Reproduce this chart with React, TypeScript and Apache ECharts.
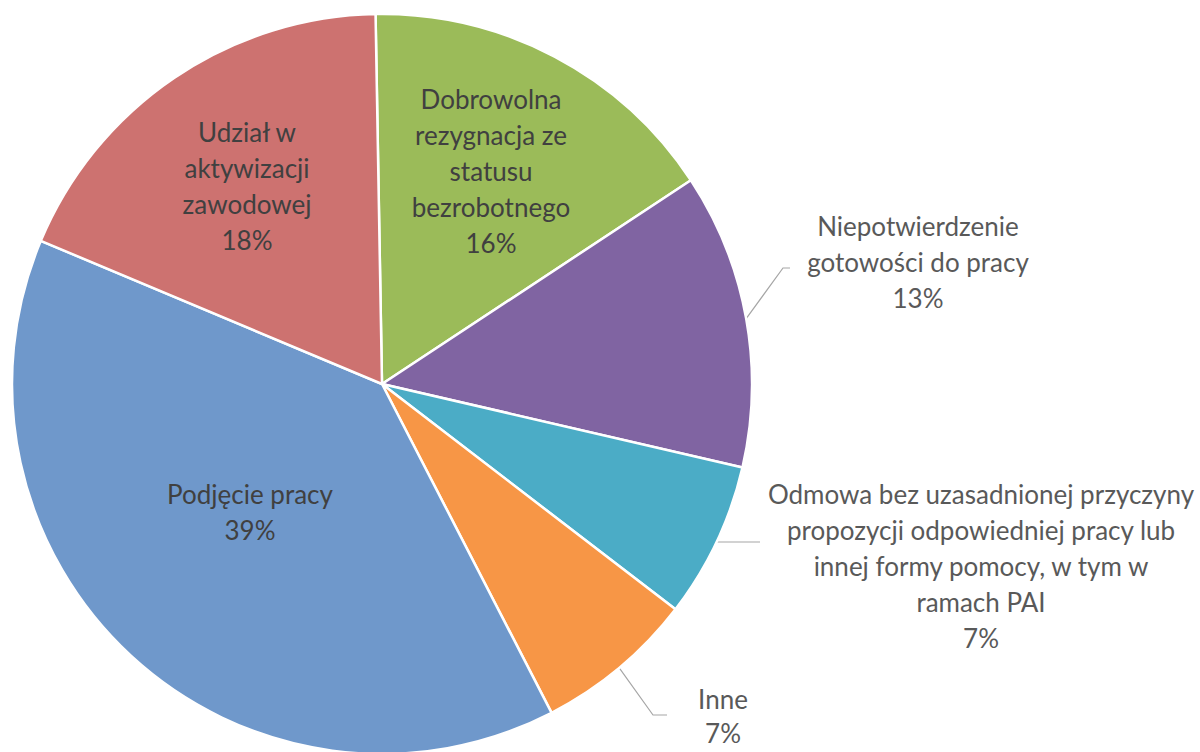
import React, { useEffect, useRef } from "react";
import * as echarts from "echarts";

// Slices in clockwise order starting at 12 o'clock
const categories = [
  "Dobrowolna rezygnacja ze statusu bezrobotnego",
  "Niepotwierdzenie gotowości do pracy",
  "Odmowa bez uzasadnionej przyczyny propozycji odpowiedniej pracy lub innej formy pomocy, w tym w ramach PAI",
  "Inne",
  "Podjęcie pracy",
  "Udział w aktywizacji zawodowej",
];
const shares = [16.0, 12.9, 6.8, 7.0, 38.9, 18.4];
const labelLines = [
  ["Dobrowolna", "rezygnacja ze", "statusu", "bezrobotnego"],
  ["Niepotwierdzenie", "gotowości do pracy"],
  ["Odmowa bez uzasadnionej przyczyny", "propozycji odpowiedniej pracy lub", "innej formy pomocy, w tym w", "ramach PAI"],
  ["Inne"],
  ["Podjęcie pracy"],
  ["Udział w", "aktywizacji", "zawodowej"],
];
const colors = ["#9BBB59", "#8064A2", "#4BACC6", "#F79646", "#6F98CB", "#CD7270"];
const insideLabel = [true, false, false, false, true, true];

// label layout (centre of label block, leader-line elbows)
const labelCentres: [number, number][] = [
  [491, 171],
  [918, 262],
  [981, 566],
  [723, 716],
  [250, 512],
  [247, 186],
];
const leaderExtra: [number, number][][] = [
  [],
  [[783, 268], [790, 268]],
  [[760, -1]],
  [[653, 715], [667, 715]],
  [],
  [],
];

export default function App() {
  const ref = useRef<HTMLDivElement>(null);
  useEffect(() => {
    if (!ref.current) return;
    const chart = echarts.init(ref.current, null, { renderer: "svg" });
    const data = categories.map((name, i) => ({
      name,
      value: shares[i],
      itemStyle: { color: colors[i] },
      label: {
        color: insideLabel[i] ? "#404040" : "#595959",
        lineHeight: i === 3 ? 34 : 36,
      },
      labelLine: { show: !insideLabel[i] },
    }));
    chart.setOption({
      animation: false,
      backgroundColor: "#ffffff",
      series: [
        {
          type: "pie",
          center: [382, 384],
          radius: [0, 370],
          startAngle: 91,
          clockwise: true,
          avoidLabelOverlap: false,
          data,
          itemStyle: { borderColor: "#ffffff", borderWidth: 2.5 },
          label: {
            show: true,
            position: "outside",
            fontFamily: "Lato",
            fontSize: 26,
            lineHeight: 36,
            align: "center",
            formatter: (p: any) =>
              labelLines[p.dataIndex].join("\n") + "\n" + Math.round(p.value) + "%",
          },
          labelLine: {
            show: true,
            lineStyle: { color: "#A6A6A6", width: 1.2 },
          },
          labelLayout: (params: any) => {
            const i = params.dataIndex;
            const [x, y] = labelCentres[i];
            const res: any = { x, y, align: "center", verticalAlign: "middle" };
            if (!insideLabel[i] && params.labelLinePoints) {
              const p0 = params.labelLinePoints[0];
              const pts: number[][] = [[p0[0], p0[1]]];
              leaderExtra[i].forEach((pt) => {
                pts.push([pt[0], pt[1] < 0 ? p0[1] : pt[1]]);
              });
              res.labelLinePoints = pts;
            }
            return res;
          },
        },
      ],
    });
    return () => chart.dispose();
  }, []);
  return (
    <div
      ref={ref}
      style={{ position: "fixed", left: 0, top: 0, width: 1200, height: 752 }}
    />
  );
}
